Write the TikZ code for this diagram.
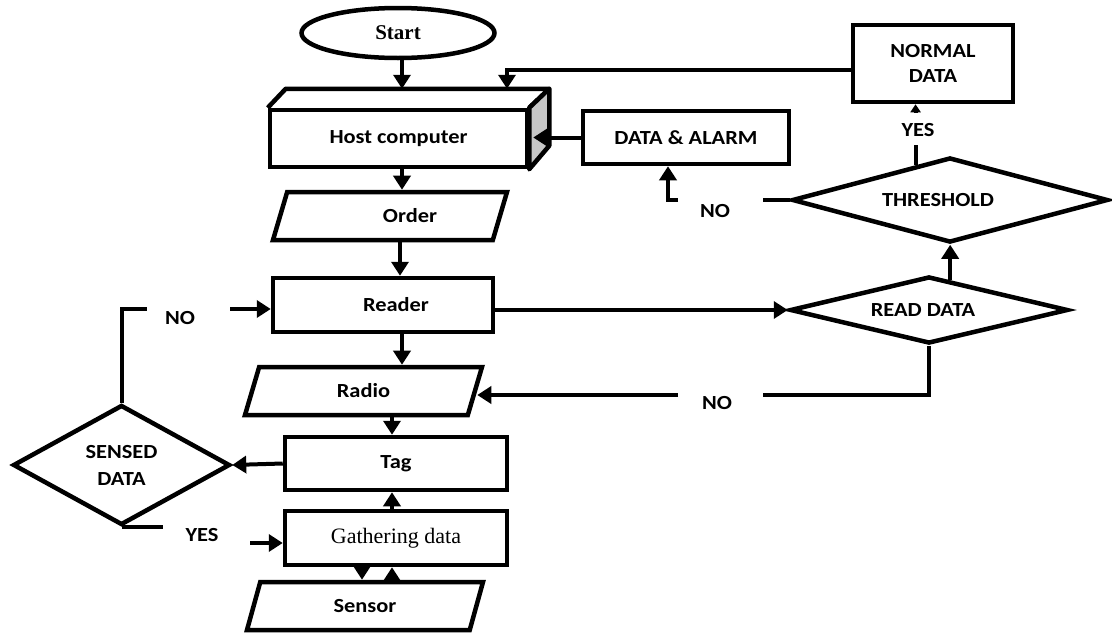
\documentclass[tikz,border=0pt]{standalone}
\usepackage{fontspec}
\setmainfont{Liberation Serif}
\newfontfamily\lab[FakeStretch=1.12]{Carlito}
\usetikzlibrary{shapes.geometric,arrows.meta,calc}
\begin{document}
\begin{tikzpicture}[x=1pt,y=-1pt,
  lbl/.style={font=\lab\bfseries\fontsize{20}{25}\selectfont},
  shp/.style={draw, line width=4.5pt, inner sep=0pt, lbl},
  box/.style={shp, rectangle},
  para/.style={shp, trapezium, trapezium left angle=45, trapezium right angle=135, trapezium stretches body},
  dia/.style={shp, diamond, align=center},
  conn/.style={line width=4pt},
  arr/.style={conn, -{Triangle[length=14pt,width=17pt]}},
  arrs/.style={conn, -{Triangle[length=8pt,width=10pt]}},
  txt/.style={lbl, inner sep=0pt}]
\useasboundingbox (0,0) rectangle (1112,635);

% nodes
\node[shp, ellipse, minimum width=193pt, minimum height=50pt, font=\bfseries\fontsize{21}{24}\selectfont] (start) at (398,33) {Start};
\node[box, minimum width=257pt, minimum height=57pt] (host) at (398.5,138.5) {Host computer};
\draw[line width=4.5pt, line join=round] (host.north west) -- ++(18,-19) -- ($(host.north east)+(20,-19)$) -- (host.north east);
\filldraw[line width=4.5pt, line join=round, fill=gray!45] (host.north east) -- ++(20,-19) -- ++(0,57) -- (host.south east) -- cycle;
\node[box, minimum width=206pt, minimum height=53pt] (alarm) at (686,137.5) {DATA \& ALARM};
\node[box, minimum width=160pt, minimum height=77pt, align=center] (normal) at (933,63.5) {NORMAL\\DATA};
\node[dia, shape aspect=3.7, minimum width=316pt, minimum height=85pt] (thresh) at (950,200) {THRESHOLD\hspace*{24pt}};
\node[para, minimum width=234pt, minimum height=48pt] (order) at (390,216) {\hspace*{40pt}Order};
\node[box, minimum width=220pt, minimum height=54pt] (reader) at (383,305) {\hspace*{26pt}Reader};
\node[dia, shape aspect=4, minimum width=278pt, minimum height=67pt] (readd) at (929,310) {READ DATA\hspace*{12pt}};
\node[para, minimum width=237pt, minimum height=48pt] (radio) at (363.5,391) {Radio};
\node[box, minimum width=222pt, minimum height=53pt] (tag) at (396,463.5) {Tag};
\node[box, minimum width=222pt, minimum height=54pt, font=\fontsize{22}{26}\selectfont] (gather) at (396,538) {Gathering data};
\node[para, minimum width=236pt, minimum height=48pt] (sensor) at (365,606) {Sensor};
\node[dia, shape aspect=1.8, minimum width=217pt, minimum height=120pt, font=\lab\bfseries\fontsize{20}{27}\selectfont] (sensed) at (121.5,465) {SENSED\\DATA};

% labels
\node[txt] (noA) at (715,211) {NO};
\node[txt] (noB) at (717,403) {NO};
\node[txt] (noC) at (180,318) {NO};
\node[txt] (yesA) at (918,130) {YES};
\node[txt] (yesB) at (202,535) {YES};

% helper coordinates
\coordinate (xA) at (402,0);
\coordinate (xB) at (400,0);
\coordinate (xT) at (392,0);
\coordinate (xS) at (362,0);
\coordinate (xN) at (507,0);
\coordinate (xAl) at (668,0);
\coordinate (yN) at (0,70);
\coordinate (yR) at (0,395);
\coordinate (yRd) at (0,309);
\coordinate (yG) at (0,543);
\coordinate (rt) at ($(readd.north)!0.15!(readd.east)$);
\coordinate (ty) at ($(thresh.north)!0.215!(thresh.west)$);

% connectors
\draw[arr] (start.south -| xA) -- ($(host.north -| xA)+(0,-19)$);
\draw[arr] (normal.west |- yN) -| ($(host.north -| xN)+(0,-19)$);
\draw[arr] (alarm.west) -- ($(alarm.west -| host.east)+(4,0)$);
\draw[arr] (host.south -| xA) -- (order.north -| xA);
\draw[arr] (order.south -| xB) -- (reader.north -| xB);
\draw[arr] (reader.east |- readd.west) -- (readd.west);
\draw[arr] (rt) -- (thresh.south -| rt);
\draw[arrs] (ty) -- (ty |- 0,145) (ty |- 0,112) -- (normal.south -| ty);
\draw[arr] (thresh.west) -- (763,200) (678,200) -| (alarm.south -| xAl);
\draw[arr] (readd.south) |- (763,395) (678,395) -- (radio.east |- yR);
\draw[arr] (reader.south -| xA) -- (radio.north -| xA);
\draw[arr] (radio.south -| xT) -- (tag.north -| xT);
\draw[arr] (tag.west) -- (sensed.east);
\draw[arr] (sensed.north) |- (147,309) (230,309) -- (reader.west |- yRd);
\draw[arr] (sensed.south) -- ++(41,0) (250,543) -- (gather.west |- yG);
\draw[arr] (gather.north -| xT) -- (tag.south -| xT);
\draw[arr] (gather.south -| xS) -- (sensor.north -| xS);
\draw[arr] (sensor.north -| xT) -- (gather.south -| xT);
\end{tikzpicture}
\end{document}
